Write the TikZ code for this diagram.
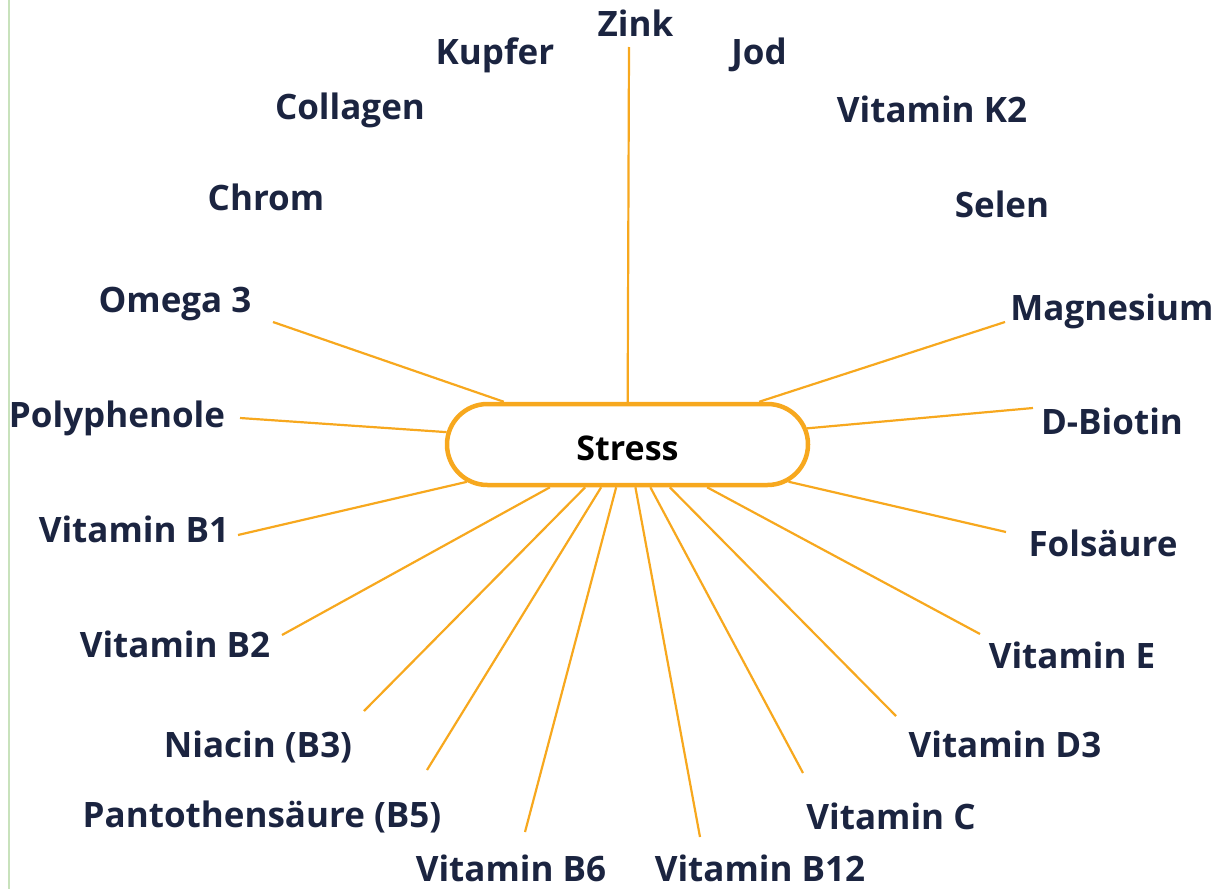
\documentclass[tikz,border=0pt]{standalone}
\usepackage{fontspec}
\setmainfont{Open Sans}
\usetikzlibrary{shapes.misc}
\definecolor{navy}{HTML}{1B2440}
\definecolor{amber}{HTML}{F7A81E}
\definecolor{sage}{HTML}{C8E2BC}
\begin{document}
\begin{tikzpicture}[x=1pt,y=-1pt,
  lbl/.style={font=\fontsize{35}{35}\selectfont\bfseries, text=navy, inner sep=0pt, text height=25pt, text depth=0pt},
  link/.style={draw=amber, line width=2.2pt},
  hub/.style={rounded rectangle, draw=amber, line width=4.5pt, fill=white, inner sep=0pt,
    minimum width=361pt, minimum height=81pt, font=\fontsize{34}{34}\selectfont\bfseries, text=black,
    text height=32pt, text depth=0pt}]
\useasboundingbox (0,0) rectangle (1218,889);
\coordinate (gtop) at (9,0);
\coordinate (gbot) at (9,889);
\draw[sage, line width=2pt] (gtop) -- (gbot);

\node[hub] (stress) at (627.5,444.5) {Stress};

% labels
\node[lbl] (zink) at (635.5,23.5) {Zink};
\node[lbl] (kupfer) at (495,52) {Kupfer};
\node[lbl] (jod) at (759,52) {Jod};
\node[lbl] (collagen) at (350,107) {Collagen};
\node[lbl] (k2) at (932,110) {Vitamin K2};
\node[lbl] (chrom) at (266,198) {Chrom};
\node[lbl] (selen) at (1002,205) {Selen};
\node[lbl] (omega) at (175,300) {Omega 3};
\node[lbl] (magn) at (1112,307.5) {Magnesium};
\node[lbl] (poly) at (117,415) {Polyphenole};
\node[lbl] (biotin) at (1112,421.5) {D-Biotin};
\node[lbl] (b1) at (134,530) {Vitamin B1};
\node[lbl] (fol) at (1103,543.5) {Folsäure};
\node[lbl] (b2) at (175,645) {Vitamin B2};
\node[lbl] (vite) at (1072,656) {Vitamin E};
\node[lbl] (b3) at (258,745) {Niacin (B3)};
\node[lbl] (d3) at (1005,745) {Vitamin D3};
\node[lbl] (b5) at (262,814.5) {Pantothensäure (B5)};
\node[lbl] (vitc) at (891,817) {Vitamin C};
\node[lbl] (b6) at (511,868.5) {Vitamin B6};
\node[lbl] (b12) at (760,868.5) {Vitamin B12};

% free ends of connectors
\coordinate (ezink) at (629,47);
\coordinate (eomega) at (273,322);
\coordinate (epoly) at (240,418);
\coordinate (eb1) at (238,535);
\coordinate (eb2) at (282,635);
\coordinate (eb3) at (364,711);
\coordinate (eb5) at (427,770);
\coordinate (eb6) at (525,832);
\coordinate (eb12) at (700,837);
\coordinate (evitc) at (803,773);
\coordinate (ed3) at (896,716);
\coordinate (evite) at (980,634);
\coordinate (efol) at (1006,532);
\coordinate (ebiotin) at (1033,408);
\coordinate (emagn) at (1005,322);

\foreach \e in {ezink,eomega,epoly,eb1,eb2,eb3,eb5,eb6,eb12,evitc,ed3,evite,efol,ebiotin,emagn}
  \draw[link] (\e) -- (stress);
\end{tikzpicture}
\end{document}
